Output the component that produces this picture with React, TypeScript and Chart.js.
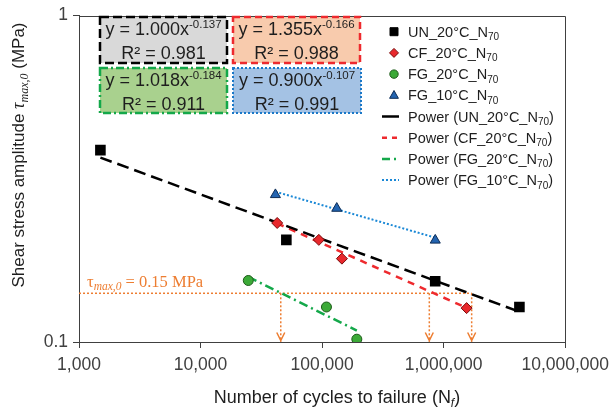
import React, { useEffect, useRef } from 'react';
import { Chart, registerables } from 'chart.js';

Chart.register(...registerables);

const SANS = '"Liberation Sans", Arial, sans-serif';
const SERIF = '"Liberation Serif", "Times New Roman", serif';
const AXIS_COLOR = '#404040';
const TEXT_COLOR = '#1e1e1e';
const ORANGE = '#ed7d31';

// ---------- data ----------
const seriesNames = ['UN_20°C_N', 'CF_20°C_N', 'FG_20°C_N', 'FG_10°C_N'];
const seriesSub = '70';

const unCycles = [1500, 50800, 852000, 4200000];
const unStress = [0.387, 0.2055, 0.1535, 0.128];

const cfCycles = [42700, 94000, 145600, 1545000];
const cfStress = [0.2315, 0.2055, 0.18, 0.127];

const fg20Cycles = [24700, 108600, 193000];
const fg20Stress = [0.1543, 0.128, 0.102];

const fg10Cycles = [41300, 132000, 853000];
const fg10Stress = [0.2826, 0.2566, 0.205];

// power fits y = a x^b shown in the chart
const fitA = [1.0, 1.355, 1.018, 0.9];
const fitB = [-0.137, -0.166, -0.184, -0.107];
const fitR2 = ['0.981', '0.988', '0.911', '0.991'];

const xTickValues = [1000, 10000, 100000, 1000000, 10000000];
const yTickValues = [0.1, 1];

const refStress = 0.141;
const refLabelValue = '0.15';
const arrowCycles = [45700, 762000, 1700000];

// ---------- styles ----------
const seriesCycles = [unCycles, cfCycles, fg20Cycles, fg10Cycles];
const seriesStress = [unStress, cfStress, fg20Stress, fg10Stress];
const markerStyles = [
  { pointStyle: 'rect', radius: 7.5, bg: '#000000', border: '#000000' },
  { pointStyle: 'rectRot', radius: 5.5, bg: '#e8282c', border: '#7a0a0a' },
  { pointStyle: 'circle', radius: 5, bg: '#3caa38', border: '#1c5a18' },
  { pointStyle: 'triangle', radius: 5.8, bg: '#2364b0', border: '#0c2b55' },
];
const lineStyles = [
  { color: '#000000', width: 2.5, dash: [12, 6] },
  { color: '#ee2a2e', width: 2.5, dash: [7, 6] },
  { color: '#14a84a', width: 2.5, dash: [9, 4, 2, 4] },
  { color: '#1a88d6', width: 2, dash: [2, 2] },
];
const boxStyles = [
  { x: 100, y: 17, w: 127, h: 46, fill: '#d9d9d9', stroke: '#000000', dash: [9, 4], lw: 2.5 },
  { x: 233, y: 17, w: 127, h: 46, fill: '#f8cbad', stroke: '#ee2a2e', dash: [7, 4], lw: 2.5 },
  { x: 100, y: 68, w: 127, h: 45, fill: '#a9d18e', stroke: '#14a84a', dash: [8, 3, 2, 3], lw: 2.5 },
  { x: 233, y: 68, w: 128, h: 45, fill: '#a4c2e4', stroke: '#1a78c8', dash: [2, 2], lw: 2 },
];

type Part = { t: string; f: string; dy?: number };

function richWidth(ctx: CanvasRenderingContext2D, parts: Part[]) {
  let w = 0;
  for (const p of parts) {
    ctx.font = p.f;
    w += ctx.measureText(p.t).width;
  }
  return w;
}

function drawRich(ctx: CanvasRenderingContext2D, parts: Part[], x: number, y: number, align: 'left' | 'center') {
  let cx = align === 'center' ? x - richWidth(ctx, parts) / 2 : x;
  ctx.textAlign = 'left';
  for (const p of parts) {
    ctx.font = p.f;
    ctx.fillText(p.t, cx, y + (p.dy || 0));
    cx += ctx.measureText(p.t).width;
  }
}

function drawMarker(ctx: CanvasRenderingContext2D, i: number, cx: number, cy: number) {
  const s = markerStyles[i];
  ctx.setLineDash([]);
  ctx.lineWidth = 1;
  ctx.fillStyle = s.bg;
  ctx.strokeStyle = s.border;
  ctx.beginPath();
  if (i === 0) {
    ctx.rect(cx - 4, cy - 4, 8, 8);
  } else if (i === 1) {
    ctx.moveTo(cx - 4.5, cy);
    ctx.lineTo(cx, cy - 4.5);
    ctx.lineTo(cx + 4.5, cy);
    ctx.lineTo(cx, cy + 4.5);
    ctx.closePath();
  } else if (i === 2) {
    ctx.arc(cx, cy, 4.2, 0, Math.PI * 2);
  } else {
    ctx.moveTo(cx, cy - 4.8);
    ctx.lineTo(cx + 4.4, cy + 3);
    ctx.lineTo(cx - 4.4, cy + 3);
    ctx.closePath();
  }
  ctx.fill();
  ctx.stroke();
}

const fmt = (v: number) => String(Math.round(v)).replace(/\B(?=(\d{3})+(?!\d))/g, ',');

const decorPlugin = {
  id: 'decor',
  afterDraw(chart: any) {
    const { ctx, chartArea: a, scales } = chart;
    const xs = scales.x;
    const ys = scales.y;
    ctx.save();

    // frame (top & right)
    ctx.strokeStyle = AXIS_COLOR;
    ctx.lineWidth = 1;
    ctx.setLineDash([]);
    ctx.beginPath();
    ctx.moveTo(Math.round(a.left) + 0.5, Math.round(a.top) + 0.5);
    ctx.lineTo(Math.round(a.right) + 0.5, Math.round(a.top) + 0.5);
    ctx.lineTo(Math.round(a.right) + 0.5, Math.round(a.bottom) + 0.5);
    ctx.stroke();

    // arrow heads
    ctx.strokeStyle = ORANGE;
    ctx.lineWidth = 1.5;
    const by = ys.getPixelForValue(yTickValues[0]) - 1.5;
    for (const n of arrowCycles) {
      const px = xs.getPixelForValue(n);
      ctx.beginPath();
      ctx.moveTo(px - 4, by - 8);
      ctx.lineTo(px, by);
      ctx.lineTo(px + 4, by - 8);
      ctx.stroke();
    }

    // reference label
    ctx.fillStyle = ORANGE;
    ctx.textBaseline = 'alphabetic';
    const ry = ys.getPixelForValue(refStress) - 6;
    drawRich(
      ctx,
      [
        { t: 'τ', f: `16.5px ${SERIF}` },
        { t: 'max,0', f: `italic 11.5px ${SERIF}`, dy: 3 },
        { t: ` = ${refLabelValue} MPa`, f: `16.5px ${SERIF}` },
      ],
      a.left + 8,
      ry,
      'left'
    );

    // equation boxes
    boxStyles.forEach((b, i) => {
      ctx.fillStyle = b.fill;
      ctx.fillRect(b.x, b.y, b.w, b.h);
      ctx.strokeStyle = b.stroke;
      ctx.lineWidth = b.lw;
      ctx.setLineDash(b.dash);
      ctx.strokeRect(b.x, b.y, b.w, b.h);
      ctx.setLineDash([]);
      ctx.fillStyle = TEXT_COLOR;
      const cx = b.x + b.w / 2;
      drawRich(
        ctx,
        [
          { t: `y = ${fitA[i].toFixed(3)}x`, f: `18px ${SANS}` },
          { t: fitB[i].toFixed(3), f: `11.5px ${SANS}`, dy: -7 },
        ],
        cx,
        b.y + 18,
        'center'
      );
      drawRich(ctx, [{ t: `R² = ${fitR2[i]}`, f: `18px ${SANS}` }], cx, b.y + 42, 'center');
    });

    // legend
    const rowY = [31.7, 52.9, 74.1, 95.3, 116.5, 137.7, 158.9, 180.1];
    const lx = 394;
    const tx = 408;
    for (let i = 0; i < 4; i++) {
      drawMarker(ctx, i, lx, rowY[i]);
      ctx.fillStyle = TEXT_COLOR;
      drawRich(
        ctx,
        [
          { t: seriesNames[i], f: `14.5px ${SANS}` },
          { t: seriesSub, f: `10px ${SANS}`, dy: 3.5 },
        ],
        tx,
        rowY[i] + 5,
        'left'
      );
    }
    for (let i = 0; i < 4; i++) {
      const y = rowY[4 + i];
      const ls = lineStyles[i];
      ctx.strokeStyle = ls.color;
      ctx.lineWidth = ls.width;
      ctx.setLineDash(i === 0 ? [] : i === 1 ? [5, 5] : i === 2 ? [8, 4, 2, 4] : [2, 2]);
      ctx.beginPath();
      ctx.moveTo(382, y);
      ctx.lineTo(399, y);
      ctx.stroke();
      ctx.setLineDash([]);
      ctx.fillStyle = TEXT_COLOR;
      drawRich(
        ctx,
        [
          { t: `Power (${seriesNames[i]}`, f: `14.5px ${SANS}` },
          { t: seriesSub, f: `10px ${SANS}`, dy: 3.5 },
          { t: ')', f: `14.5px ${SANS}` },
        ],
        tx,
        y + 5,
        'left'
      );
    }

    // axis titles
    ctx.fillStyle = TEXT_COLOR;
    drawRich(
      ctx,
      [
        { t: 'Number of cycles to failure (N', f: `18px ${SANS}` },
        { t: 'f', f: `italic 12px ${SANS}`, dy: 4 },
        { t: ')', f: `18px ${SANS}` },
      ],
      337,
      403,
      'center'
    );

    ctx.save();
    ctx.translate(24, 155);
    ctx.rotate(-Math.PI / 2);
    drawRich(
      ctx,
      [
        { t: 'Shear stress amplitude ', f: `17px ${SANS}` },
        { t: 'τ', f: `italic 18px ${SERIF}` },
        { t: 'max,0', f: `italic 12px ${SERIF}`, dy: 4 },
        { t: ' (MPa)', f: `17px ${SANS}` },
      ],
      0,
      0,
      'center'
    );
    ctx.restore();

    ctx.restore();
  },
};

export default function App() {
  const ref = useRef<HTMLCanvasElement | null>(null);

  useEffect(() => {
    const canvas = ref.current;
    if (!canvas) return;

    const datasets: any[] = [];
    // markers (drawn on top -> first)
    for (let i = 0; i < 4; i++) {
      const m = markerStyles[i];
      datasets.push({
        label: seriesNames[i] + seriesSub,
        data: seriesCycles[i].map((x, k) => ({ x, y: seriesStress[i][k] })),
        pointStyle: m.pointStyle,
        pointRadius: m.radius,
        pointBackgroundColor: m.bg,
        pointBorderColor: m.border,
        pointBorderWidth: i === 0 ? 0 : 1,
        showLine: false,
      });
    }
    // power trend lines between min and max cycles of each series
    for (let i = 0; i < 4; i++) {
      const ls = lineStyles[i];
      const lo = Math.min(...seriesCycles[i]);
      const hi = Math.max(...seriesCycles[i]);
      datasets.push({
        label: 'Power ' + seriesNames[i],
        data: [lo, hi].map((x) => ({ x, y: fitA[i] * Math.pow(x, fitB[i]) })),
        showLine: true,
        pointRadius: 0,
        borderColor: ls.color,
        borderWidth: ls.width,
        borderDash: ls.dash,
        borderCapStyle: 'butt',
        fill: false,
      });
    }
    // reference stress line and arrows
    datasets.push({
      label: 'ref',
      data: [
        { x: xTickValues[0], y: refStress },
        { x: arrowCycles[arrowCycles.length - 1], y: refStress },
      ],
      showLine: true,
      pointRadius: 0,
      borderColor: ORANGE,
      borderWidth: 1.5,
      borderDash: [2, 2],
      fill: false,
    });
    arrowCycles.forEach((n) => {
      datasets.push({
        label: 'arrow',
        data: [
          { x: n, y: refStress },
          { x: n, y: yTickValues[0] },
        ],
        showLine: true,
        pointRadius: 0,
        borderColor: ORANGE,
        borderWidth: 1.5,
        borderDash: [2, 2],
        fill: false,
      });
    });

    const chart = new Chart(canvas, {
      type: 'scatter',
      data: { datasets },
      options: {
        responsive: false,
        animation: false,
        devicePixelRatio: 1,
        layout: { padding: { top: 14, right: 47, left: 0, bottom: 0 } },
        plugins: { legend: { display: false }, tooltip: { enabled: false } },
        scales: {
          x: {
            type: 'logarithmic',
            min: xTickValues[0],
            max: xTickValues[xTickValues.length - 1],
            position: 'bottom',
            afterBuildTicks: (s: any) => {
              s.ticks = xTickValues.map((v) => ({ value: v }));
            },
            afterFit: (s: any) => {
              s.height = 66;
            },
            ticks: {
              callback: (v: any) => fmt(Number(v)),
              font: { family: SANS, size: 17.5 },
              color: AXIS_COLOR,
              padding: 7,
              maxRotation: 0,
              autoSkip: false,
            },
            grid: { drawOnChartArea: false, drawTicks: true, tickLength: 6, color: AXIS_COLOR },
            border: { color: AXIS_COLOR, width: 1 },
          },
          y: {
            type: 'logarithmic',
            min: yTickValues[0],
            max: yTickValues[yTickValues.length - 1],
            afterBuildTicks: (s: any) => {
              s.ticks = yTickValues.map((v) => ({ value: v }));
            },
            afterFit: (s: any) => {
              s.width = 79;
            },
            ticks: {
              callback: (v: any) => (Number(v) >= 1 ? '1' : '0.1'),
              font: { family: SANS, size: 17.5 },
              color: AXIS_COLOR,
              padding: 5,
            },
            grid: { drawOnChartArea: false, drawTicks: true, tickLength: 6, color: AXIS_COLOR },
            border: { color: AXIS_COLOR, width: 1 },
          },
        },
      } as any,
      plugins: [decorPlugin as any],
    });

    return () => chart.destroy();
  }, []);

  return (
    <div style={{ position: 'fixed', left: 0, top: 0, width: 616, height: 408, background: '#fff' }}>
      <canvas ref={ref} width={616} height={408} style={{ display: 'block', width: 616, height: 408 }} />
    </div>
  );
}
